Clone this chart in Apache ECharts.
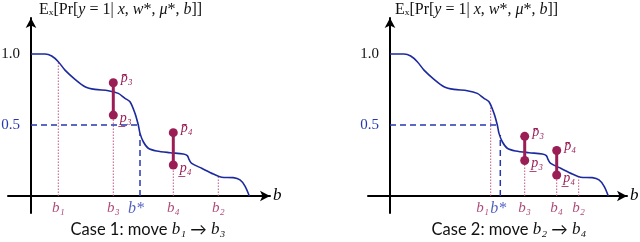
<!DOCTYPE html>
<html>
<head>
<meta charset="utf-8">
<script src="https://cdn.jsdelivr.net/npm/echarts@6/dist/echarts.min.js"></script>
<style>html,body{margin:0;padding:0;background:#fff;}#c{width:640px;height:242px;}</style>
</head>
<body>
<div id="c"></div>
<script>
// Expected positive rate curve E_x[Pr[y=1|x,w*,mu*,b]] vs threshold b
const curveB = [0, 14, 20.7, 27.3, 34, 44, 54, 64, 77.3, 87.3, 94, 99, 104, 107.3, 109, 112.3, 117.3, 125.7, 139, 152.3, 156.3, 158.3, 160.7, 170.7, 182.3, 190.7, 202.3, 209, 214, 218.3];
const curveP = [1.0, 1.0, 0.986, 0.946, 0.887, 0.822, 0.770, 0.751, 0.742, 0.723, 0.688, 0.664, 0.582, 0.5, 0.441, 0.382, 0.336, 0.317, 0.305, 0.296, 0.284, 0.254, 0.230, 0.195, 0.155, 0.132, 0.129, 0.113, 0.07, 0.0];

const yTickValues = [0.5, 1.0];
const targetRate = 0.5;

// Case 1
const case1Names = ['b₁', 'b₃', 'b*', 'b₄', 'b₂'];
const case1Pos   = [27.3, 82.3, 109, 142.3, 187.3];
const case1Top   = [0.946, 0.57, 0.44, 0.218, 0.136];
const case1P3    = [0.57, 0.798];   // [lower, upper] at b3
const case1P4    = [0.218, 0.446];  // [lower, upper] at b4
const case1BStarCross = 107.3;

// Case 2
const case2Names = ['b₁', 'b*', 'b₃', 'b₄', 'b₂'];
const case2Pos   = [100.7, 110.3, 134.7, 166.7, 188.7];
const case2Top   = [0.65, 0.43, 0.25, 0.148, 0.13];
const case2P3    = [0.25, 0.42];
const case2P4    = [0.148, 0.32];
const case2BStarCross = 106.7;

const captions = ['Case 1: move ', 'Case 2: move '];
const captionMoves = [['b₁', 'b₃'], ['b₂', 'b₄']];

const BLUE = '#1c2a9e';
const BLUE_T = '#2638b0';
const MAG = '#9a1d56';
const PINK = '#c25585';
const SERIF = '"Liberation Serif","DejaVu Serif",serif';
const SANS = 'Lato,"Open Sans","Noto Sans",sans-serif';

const chart = echarts.init(document.getElementById('c'), null, {renderer: 'canvas'});

const grids = [
  {left: 8, top: 18, width: 262, height: 195, outerBoundsMode: 'none', containLabel: false},
  {left: 368, top: 18, width: 259, height: 195, outerBoundsMode: 'none', containLabel: false}
];
const xRanges = [[-23, 239], [-22, 237]];
const yLabelMargins = [-12, -11];

function xAxisCfg(i) {
  return {
    gridIndex: i, type: 'value', min: xRanges[i][0], max: xRanges[i][1],
    axisLine: {onZero: true, lineStyle: {color: '#000', width: 2}, symbol: ['none', 'arrow'], symbolSize: [8, 10]},
    axisTick: {show: false}, axisLabel: {show: false}, splitLine: {show: false},
    name: 'b', nameLocation: 'end', nameGap: 3,
    nameTextStyle: {fontFamily: SERIF, fontStyle: 'italic', fontSize: 17, color: '#000', padding: [6, 0, 0, 0]}
  };
}
function yAxisCfg(i) {
  return {
    gridIndex: i, type: 'value', min: -0.12, max: 1.254,
    axisLine: {onZero: true, lineStyle: {color: '#000', width: 2}, symbol: ['none', 'arrow'], symbolSize: [8, 10]},
    axisTick: {show: false}, splitLine: {show: false},
    axisLabel: {
      customValues: yTickValues, margin: yLabelMargins[i], hideOverlap: false,
      formatter: v => (Math.abs(v - targetRate) < 1e-6 ? '{b|' : '{k|') + Number(v).toFixed(1) + '}',
      rich: {
        b: {color: BLUE_T, fontFamily: SERIF, fontSize: 15},
        k: {color: '#111', fontFamily: SERIF, fontSize: 15}
      }
    }
  };
}

const series = [];
function panel(i, names, pos, top, p3, p4, crossB) {
  const ax = {xAxisIndex: i, yAxisIndex: i};
  // curve
  series.push(Object.assign({
    type: 'line', data: curveB.map((b, k) => [b, curveP[k]]),
    smooth: 0.3, showSymbol: false, symbol: 'none',
    lineStyle: {color: BLUE, width: 1.6}, z: 3, silent: true
  }, ax));
  // dotted / dashed verticals
  names.forEach((n, k) => {
    const isStar = n === 'b*';
    series.push(Object.assign({
      type: 'line', data: [[pos[k], 0], [pos[k], top[k]]], symbol: 'none', silent: true,
      lineStyle: isStar ? {color: BLUE_T, width: 1.5, type: [6, 4]} : {color: PINK, width: 1, type: [1.5, 1.5]},
      z: 2
    }, ax));
  });
  // horizontal dashed 0.5
  series.push(Object.assign({
    type: 'line', data: [[0, targetRate], [crossB, targetRate]], symbol: 'none', silent: true,
    lineStyle: {color: BLUE_T, width: 1.5, type: [6, 4]}, z: 2
  }, ax));
  // axis labels for b's
  series.push(Object.assign({
    type: 'scatter', symbolSize: 0, silent: true, z: 5,
    data: names.map((n, k) => {
      const isStar = n === 'b*';
      const off = (i === 1 && n === 'b₁') ? -8 : (isStar ? (i === 0 ? -4 : -2) : 0);
      return {
        value: [pos[k], 0],
        label: {
          show: true, position: 'bottom', distance: 5, offset: [off, 0],
          formatter: n, fontFamily: SERIF, fontStyle: 'italic', fontSize: isStar ? 16 : 15,
          color: isStar ? BLUE_T : MAG
        }
      };
    })
  }, ax));
  // intervals
  const bx3 = pos[names.indexOf('b₃')], bx4 = pos[names.indexOf('b₄')];
  [[bx3, p3, '3'], [bx4, p4, '4']].forEach(([bx, pr, sub]) => {
    series.push(Object.assign({
      type: 'line', symbol: 'circle', symbolSize: 9, showSymbol: true, silent: true, z: 6,
      lineStyle: {color: MAG, width: 3}, itemStyle: {color: MAG},
      data: [
        {value: [bx, pr[0]], label: {show: true, position: 'right', distance: 2, offset: [0, 3],
          formatter: 'p\u0332' + (sub === '3' ? '₃' : '₄'), fontFamily: SERIF, fontStyle: 'italic', fontSize: 14, color: MAG}},
        {value: [bx, pr[1]], label: {show: true, position: 'right', distance: 3, offset: [0, -4],
          formatter: 'p\u0304' + (sub === '3' ? '₃' : '₄'), fontFamily: SERIF, fontStyle: 'italic', fontSize: 14, color: MAG}}
      ]
    }, ax));
  });
}
panel(0, case1Names, case1Pos, case1Top, case1P3, case1P4, case1BStarCross);
panel(1, case2Names, case2Pos, case2Top, case2P3, case2P4, case2BStarCross);

const titleRich = {
  r: {fontFamily: SERIF, fontSize: 16, fontWeight: 'normal', color: '#111'},
  i: {fontFamily: SERIF, fontSize: 16, fontWeight: 'normal', fontStyle: 'italic', color: '#111'}
};
const titleText = '{r|Eₓ[Pr[}{i|y}{r| = 1| }{i|x}{r|, }{i|w}{r|*, }{i|μ}{r|*, }{i|b}{r|]]}';
const capRich = {
  s: {fontFamily: SANS, fontSize: 16.5, fontWeight: 'normal', color: '#111'},
  i: {fontFamily: SERIF, fontSize: 17, fontWeight: 'normal', fontStyle: 'italic', color: '#111'}
};
function capText(k) {
  return '{s|' + captions[k] + '}{i|' + captionMoves[k][0] + '}{s| → }{i|' + captionMoves[k][1] + '}';
}

chart.setOption({
  animation: false,
  backgroundColor: '#fff',
  grid: grids,
  xAxis: [xAxisCfg(0), xAxisCfg(1)],
  yAxis: [yAxisCfg(0), yAxisCfg(1)],
  title: [
    {text: titleText, left: 34, top: -3, textStyle: {fontWeight: 'normal', rich: titleRich}},
    {text: titleText, left: 390, top: -3, textStyle: {fontWeight: 'normal', rich: titleRich}},
    {text: capText(0), left: 143, textAlign: 'center', top: 216, textStyle: {fontWeight: 'normal', rich: capRich}},
    {text: capText(1), left: 504, textAlign: 'center', top: 216, textStyle: {fontWeight: 'normal', rich: capRich}}
  ],
  series: series
});
</script>
</body>
</html>
